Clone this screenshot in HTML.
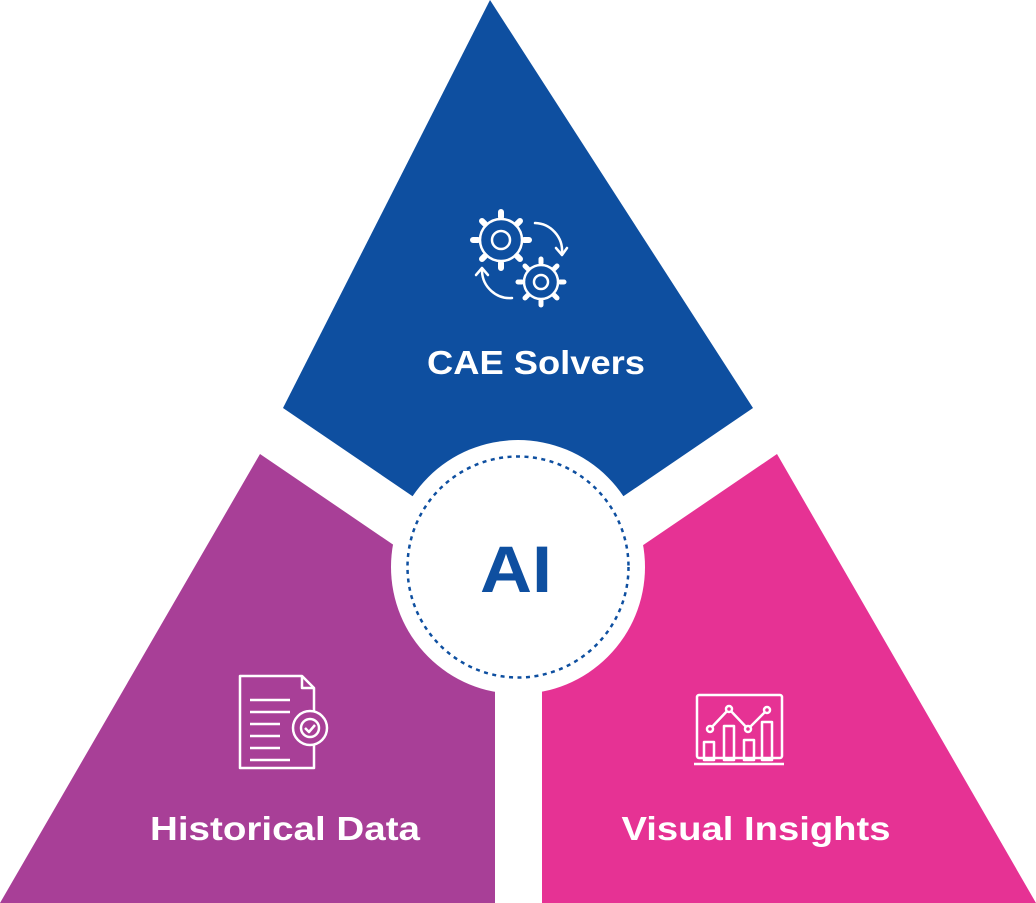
<!DOCTYPE html>
<html><head><meta charset="utf-8"><style>
html,body{margin:0;padding:0;background:#fff;width:1036px;height:903px;overflow:hidden}
svg{display:block}
text{font-family:"Liberation Sans",sans-serif;font-weight:bold;fill:#fff}
</style></head><body>
<svg width="1036" height="903" viewBox="0 0 1036 903" xmlns="http://www.w3.org/2000/svg">
<polygon points="490,0 753,408 518,568 283,408" fill="#0e4fa0"/>
<polygon points="260,454 495,614 495,903 0,903" fill="#a83f97"/>
<polygon points="777,454 1036,903 542,903 542,614" fill="#e63294"/>
<circle cx="518" cy="567" r="127" fill="#fff"/>
<circle cx="518" cy="567" r="110.5" fill="none" stroke="#0e4fa0" stroke-width="2.5" stroke-dasharray="4,4.5"/>
<text x="516" y="592" font-size="66" text-anchor="middle" textLength="72" lengthAdjust="spacingAndGlyphs" style="fill:#0e4fa0">AI</text>
<text x="536" y="374" font-size="33" text-anchor="middle" textLength="218" lengthAdjust="spacingAndGlyphs">CAE Solvers</text>
<text x="285" y="840" font-size="33" text-anchor="middle" textLength="270" lengthAdjust="spacingAndGlyphs">Historical Data</text>
<text x="756" y="840" font-size="33" text-anchor="middle" textLength="269" lengthAdjust="spacingAndGlyphs">Visual Insights</text>
<g fill="none" stroke="#fff" stroke-width="2.5" stroke-linecap="round" stroke-linejoin="round">
<circle cx="501" cy="240" r="21"/><circle cx="501" cy="240" r="9"/>
<g stroke-width="6">
<path d="M501 217v-5M501 263v5M478 240h-5M524 240h5M485 224l-3-3M517 256l3 3M485 256l-3 3M517 224l3-3"/>
</g>
<circle cx="541" cy="282" r="17"/><circle cx="541" cy="282" r="7"/>
<g stroke-width="5">
<path d="M541 263v-4M541 301v4M522 282h-4M560 282h4M528 269l-3-3M554 295l3 3M528 295l-3 3M554 269l3-3"/>
</g>
<path d="M535 223a28 28 0 0 1 27 30"/><path d="M556 248l6 7 5-7"/>
<path d="M512 298a28 28 0 0 1-30-27"/><path d="M476 275l6-7 6 7"/>
</g>
<g fill="none" stroke="#fff" stroke-width="2.5" stroke-linejoin="round">
<path d="M240 676h62l12 12v80h-74z"/>
<path d="M302 676v12h12"/>
<path d="M250 700h40M250 712h40M250 724h30M250 736h30M250 748h30M250 760h40"/>
<circle cx="310" cy="728" r="17" fill="#a83f97"/>
<circle cx="310" cy="728" r="9"/>
<path d="M305 728l4 4 6-7"/>
</g>
<g fill="none" stroke="#fff" stroke-width="2.5" stroke-linejoin="round">
<rect x="697" y="695" width="85" height="63" rx="2"/>
<path d="M694 764h90"/>
<rect x="704" y="742" width="10" height="18"/><rect x="724" y="726" width="10" height="34"/>
<rect x="744" y="740" width="10" height="20"/><rect x="762" y="722" width="10" height="38"/>
<path d="M710 729l19-20 19 20 19-19"/>
<circle cx="710" cy="729" r="3" fill="#e63294"/><circle cx="729" cy="709" r="3" fill="#e63294"/>
<circle cx="748" cy="729" r="3" fill="#e63294"/><circle cx="767" cy="710" r="3" fill="#e63294"/>
</g>
</svg>
</body></html>
